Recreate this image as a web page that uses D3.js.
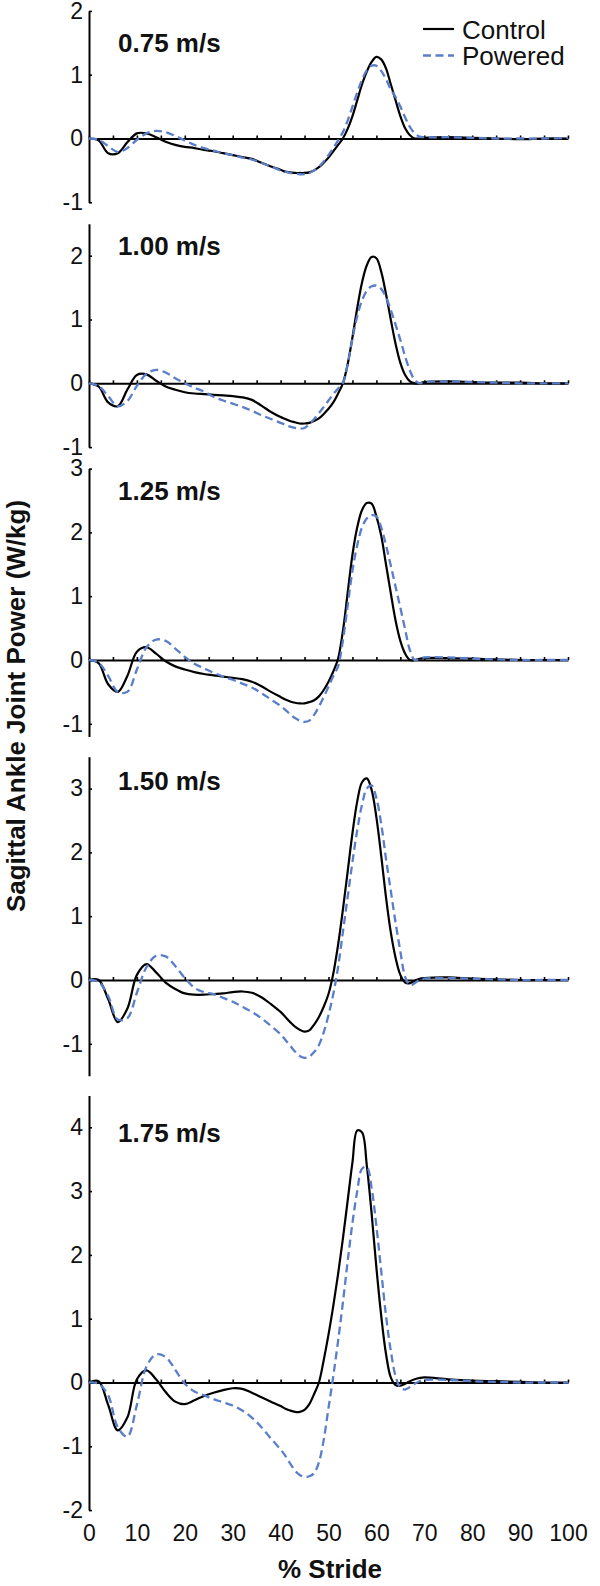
<!DOCTYPE html>
<html>
<head>
<meta charset="utf-8">
<script src="https://cdn.jsdelivr.net/npm/d3@7"></script>
<style>
  body { margin: 0; background: #fff; }
  svg { display: block; font-family: Arial, "Liberation Sans", Helvetica, sans-serif; }
</style>
</head>
<body>
<div id="chart"></div>
<script>
// sample positions (% stride) shared by every curve
const stridePct = [0,2,4,6,8,10,12,14,16,18,20,22,24,26,28,30,32,34,36,38,40,
  41,42,43,44,45,46,47,48,49,50,
  51,52,53,54,55,56,57,58,59,60,
  61,62,63,64,65,66,67,68,69,70,
  75,80,85,90,95,100];

const speedLabels = ["0.75 m/s", "1.00 m/s", "1.25 m/s", "1.50 m/s", "1.75 m/s"];
const yLimits = [[-1, 2], [-1, 2.5], [-1.2, 3], [-1.5, 3.5], [-2, 4.5]];
const seriesNames = ["Control", "Powered"];

const control075 = [0,-0.03,-0.23,-0.23,-0.06,0.08,0.08,0.02,-0.05,-0.1,-0.13,-0.15,-0.18,-0.2,-0.23,-0.26,-0.29,-0.32,-0.38,-0.44,-0.49,
  -0.52,-0.53,-0.54,-0.54,-0.54,-0.53,-0.5,-0.45,-0.38,-0.3,
  -0.2,-0.1,0.0,0.15,0.35,0.6,0.85,1.05,1.2,1.28,
  1.24,1.1,0.85,0.6,0.35,0.16,0.05,0.0,0.0,0.01,
  0.02,0.01,0.0,-0.01,0.0,0.0];
const powered075 = [0,-0.02,-0.12,-0.21,-0.15,-0.02,0.08,0.12,0.1,0.04,-0.03,-0.1,-0.15,-0.19,-0.23,-0.26,-0.3,-0.33,-0.38,-0.44,-0.5,
  -0.52,-0.54,-0.55,-0.56,-0.56,-0.54,-0.5,-0.44,-0.36,-0.26,
  -0.15,-0.03,0.1,0.28,0.5,0.72,0.92,1.07,1.14,1.14,
  1.06,0.93,0.77,0.65,0.5,0.33,0.18,0.08,0.03,0.02,
  0.02,0.01,0.0,0.0,0.0,0.01];

const control100 = [0,-0.05,-0.3,-0.36,-0.1,0.13,0.14,0.04,-0.05,-0.1,-0.14,-0.16,-0.17,-0.18,-0.19,-0.2,-0.22,-0.26,-0.35,-0.45,-0.53,
  -0.56,-0.59,-0.61,-0.63,-0.63,-0.62,-0.59,-0.55,-0.48,-0.4,
  -0.3,-0.16,0.0,0.3,0.72,1.18,1.58,1.85,1.98,1.96,
  1.75,1.4,1.0,0.62,0.32,0.13,0.03,0.0,0.0,0.02,
  0.03,0.02,0.01,0.01,0.0,0.0];
const powered100 = [0,-0.04,-0.2,-0.36,-0.28,-0.04,0.15,0.21,0.17,0.08,0.0,-0.07,-0.13,-0.21,-0.27,-0.32,-0.37,-0.43,-0.5,-0.56,-0.62,
  -0.65,-0.68,-0.7,-0.71,-0.7,-0.64,-0.56,-0.47,-0.37,-0.27,
  -0.17,-0.08,0.0,0.3,0.7,1.05,1.3,1.45,1.52,1.53,
  1.48,1.35,1.15,0.92,0.68,0.42,0.2,0.05,0.0,0.02,
  0.03,0.02,0.01,0.0,0.0,0.0];

const control125 = [0,-0.05,-0.38,-0.5,-0.25,0.13,0.2,0.1,-0.02,-0.1,-0.15,-0.19,-0.22,-0.24,-0.26,-0.28,-0.3,-0.34,-0.41,-0.5,-0.58,
  -0.62,-0.65,-0.67,-0.68,-0.68,-0.66,-0.63,-0.57,-0.47,-0.34,
  -0.18,0.02,0.45,1.05,1.65,2.08,2.35,2.46,2.45,2.25,
  1.95,1.5,1.05,0.62,0.3,0.1,0.0,0.0,0.02,0.03,
  0.03,0.02,0.01,0.0,0.0,0.0];
const powered125 = [0,-0.04,-0.25,-0.5,-0.5,-0.15,0.2,0.32,0.3,0.18,0.05,-0.06,-0.13,-0.2,-0.26,-0.31,-0.37,-0.43,-0.52,-0.62,-0.72,
  -0.78,-0.85,-0.91,-0.95,-0.97,-0.95,-0.86,-0.73,-0.58,-0.42,
  -0.25,-0.1,0.3,0.85,1.4,1.8,2.08,2.22,2.27,2.25,
  2.08,1.8,1.48,1.15,0.82,0.48,0.15,0.0,0.02,0.04,
  0.04,0.02,0.01,0.0,0.0,0.0];

const control150 = [0,0.0,-0.3,-0.66,-0.45,0.08,0.25,0.12,-0.04,-0.14,-0.21,-0.23,-0.23,-0.22,-0.21,-0.19,-0.18,-0.2,-0.27,-0.38,-0.5,
  -0.58,-0.66,-0.73,-0.78,-0.81,-0.79,-0.7,-0.58,-0.42,-0.22,
  0.1,0.55,1.1,1.7,2.3,2.8,3.1,3.16,2.98,2.55,
  1.95,1.3,0.75,0.35,0.08,-0.04,-0.05,-0.01,0.02,0.03,
  0.04,0.02,0.01,0.0,0.0,0.0];
const powered150 = [0,-0.03,-0.25,-0.62,-0.6,-0.2,0.2,0.38,0.37,0.22,0.03,-0.12,-0.19,-0.22,-0.28,-0.34,-0.42,-0.5,-0.6,-0.72,-0.85,
  -0.94,-1.03,-1.12,-1.19,-1.22,-1.2,-1.13,-1.02,-0.82,-0.55,
  -0.22,0.2,0.75,1.3,1.85,2.35,2.75,3.0,3.05,2.85,
  2.45,1.9,1.4,0.9,0.45,0.05,-0.08,-0.05,0.0,0.02,
  0.03,0.02,0.01,0.0,0.0,0.0];

const control175 = [0,0.02,-0.35,-0.75,-0.55,0.05,0.19,0.05,-0.15,-0.3,-0.34,-0.28,-0.21,-0.16,-0.12,-0.09,-0.1,-0.16,-0.23,-0.3,-0.37,
  -0.41,-0.44,-0.46,-0.46,-0.43,-0.34,-0.18,0.0,0.35,0.75,
  1.2,1.7,2.25,2.85,3.45,3.95,3.92,3.4,2.65,1.8,
  1.05,0.45,0.08,-0.04,-0.05,-0.02,0.02,0.05,0.07,0.08,
  0.05,0.03,0.02,0.01,0.0,0.0];
const powered175 = [0,-0.02,-0.2,-0.7,-0.85,-0.35,0.25,0.44,0.4,0.2,-0.02,-0.14,-0.2,-0.26,-0.31,-0.36,-0.44,-0.55,-0.7,-0.88,-1.05,
  -1.15,-1.27,-1.38,-1.45,-1.48,-1.47,-1.42,-1.25,-0.9,-0.4,
  0.1,0.65,1.25,1.9,2.5,3.0,3.35,3.38,3.05,2.45,
  1.75,1.05,0.5,0.1,-0.08,-0.11,-0.07,-0.02,0.02,0.04,
  0.04,0.02,0.01,0.0,0.0,0.0];

const controlSeries = [control075, control100, control125, control150, control175];
const poweredSeries = [powered075, powered100, powered125, powered150, powered175];

const xMinorTicks = d3.range(0, 101, 5);
const xLabelTicks = d3.range(0, 101, 10);

// layout
const width = 600, height = 1586;
const unit = 63.8;                 // px per W/kg
const zeroY = [138.5, 383.3, 660, 980, 1382.5];
const titleY = [52, 255, 500, 790, 1142];
const blue = "#5a7ec9";

const svg = d3.select("#chart").append("svg")
    .attr("width", width)
    .attr("height", height);

svg.append("rect").attr("width", width).attr("height", height).attr("fill", "#fff");

const x = d3.scaleLinear().domain([0, 100]).range([89, 568]);

speedLabels.forEach((label, i) => {
    const [lo, hi] = yLimits[i];
    const y = d3.scaleLinear()
        .domain([lo, hi])
        .range([zeroY[i] - lo * unit, zeroY[i] - hi * unit]);

    const g = svg.append("g").attr("class", "panel");

    // y axis
    const yAxis = d3.axisLeft(y)
        .tickValues(d3.range(Math.ceil(lo), Math.floor(hi) + 1))
        .tickSizeInner(-3)
        .tickSizeOuter(0)
        .tickPadding(6)
        .tickFormat(d => String(d));
    const ya = g.append("g")
        .attr("transform", `translate(${x(0)},0)`)
        .call(yAxis);
    ya.select(".domain").attr("stroke-width", 2);
    ya.selectAll(".tick line").attr("stroke-width", 1.6);
    ya.selectAll("text")
        .attr("font-size", 23)
        .attr("font-family", "Arial, 'Liberation Sans', sans-serif")
        .attr("fill", "#111");

    // zero line with small ticks
    const xAxis = d3.axisTop(x)
        .tickValues(xMinorTicks)
        .tickSize(3)
        .tickSizeOuter(0)
        .tickFormat("");
    const xa = g.append("g")
        .attr("transform", `translate(0,${y(0)})`)
        .call(xAxis);
    xa.select(".domain").attr("stroke-width", 2);
    xa.selectAll(".tick line").attr("stroke-width", 1.6);

    const line = d3.line()
        .x((d, j) => x(stridePct[j]))
        .y(d => y(d))
        .curve(d3.curveCatmullRom.alpha(0.5));

    g.append("path")
        .datum(controlSeries[i])
        .attr("fill", "none")
        .attr("stroke", "#000")
        .attr("stroke-width", 2.2)
        .attr("d", line);

    g.append("path")
        .datum(poweredSeries[i])
        .attr("fill", "none")
        .attr("stroke", blue)
        .attr("stroke-width", 2.3)
        .attr("stroke-dasharray", "8,4.5")
        .attr("d", line);

    g.append("text")
        .attr("x", 118)
        .attr("y", titleY[i])
        .attr("font-size", 26)
        .attr("font-weight", "bold")
        .attr("fill", "#111")
        .text(label);
});

// bottom tick labels
const bottomAxis = d3.axisBottom(x)
    .tickValues(xLabelTicks)
    .tickSize(0)
    .tickPadding(3)
    .tickFormat(d => String(d));
const ba = svg.append("g")
    .attr("transform", "translate(0,1522)")
    .call(bottomAxis);
ba.select(".domain").remove();
ba.selectAll("text")
    .attr("font-size", 23)
    .attr("font-family", "Arial, 'Liberation Sans', sans-serif")
    .attr("fill", "#111");

// axis titles
svg.append("text")
    .attr("x", 330)
    .attr("y", 1578)
    .attr("text-anchor", "middle")
    .attr("font-size", 26)
    .attr("font-weight", "bold")
    .attr("fill", "#111")
    .text("% Stride");

svg.append("text")
    .attr("transform", "translate(25,706) rotate(-90)")
    .attr("text-anchor", "middle")
    .attr("font-size", 26)
    .attr("font-weight", "bold")
    .attr("fill", "#111")
    .text("Sagittal Ankle Joint Power (W/kg)");

// legend
const legend = svg.append("g").attr("class", "legend");
seriesNames.forEach((name, k) => {
    const ly = 29 + k * 26.5;
    legend.append("line")
        .attr("x1", 423).attr("x2", 454)
        .attr("y1", ly).attr("y2", ly)
        .attr("stroke", k === 0 ? "#000" : blue)
        .attr("stroke-width", k === 0 ? 2.2 : 2.3)
        .attr("stroke-dasharray", k === 0 ? null : "8,4.5");
    legend.append("text")
        .attr("x", 462)
        .attr("y", ly + 9.5)
        .attr("font-size", 26)
        .attr("fill", "#111")
        .text(name);
});
</script>
</body>
</html>
